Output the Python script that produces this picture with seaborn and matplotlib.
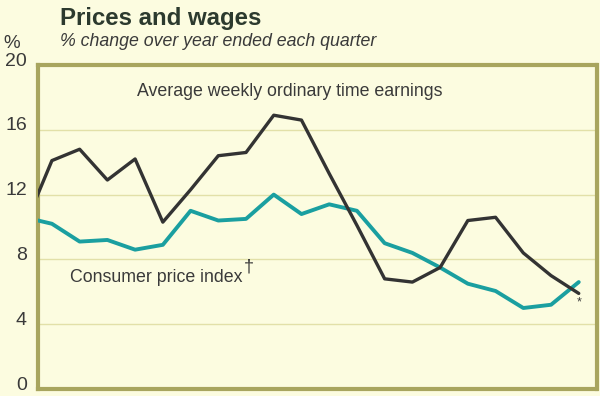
import matplotlib
matplotlib.use("Agg")
import matplotlib.pyplot as plt
import seaborn as sns
import pandas as pd

# Data (quarterly, % change over year); first point lies just left of the visible axis
quarter = list(range(21))
awote = [10.0, 14.1, 14.8, 12.9, 14.2, 10.3, 12.3, 14.4, 14.6, 16.9, 16.6,
         13.3, 10.1, 6.8, 6.6, 7.5, 10.4, 10.6, 8.4, 7.0, 5.9]
cpi = [10.6, 10.2, 9.1, 9.2, 8.6, 8.9, 11.0, 10.4, 10.5, 12.0, 10.8,
       11.4, 11.0, 9.0, 8.4, 7.5, 6.5, 6.05, 5.0, 5.2, 6.6]
yticks = [0, 4, 8, 12, 16, 20]

title = "Prices and wages"
subtitle = "% change over year ended each quarter"
awote_label = "Average weekly ordinary time earnings"
cpi_label = "Consumer price index"

bg = "#FCFCE0"
frame_col = "#A8A55E"
grid_col = "#E2E0A8"
dark = "#333333"
teal = "#1A9FA0"
text_col = "#3a3a3a"

sns.set_theme(style="white")
plt.rcParams["font.family"] = ["Liberation Sans", "DejaVu Sans"]

df = pd.DataFrame({"q": quarter, "awote": awote, "cpi": cpi})

fig = plt.figure(figsize=(6.0, 3.96), dpi=100)
fig.patch.set_facecolor(bg)
W, H = 600, 396
left, right, top, bottom = 37.5, 596.5, 65.0, 389.0
ax = fig.add_axes([left / W, 1 - bottom / H, (right - left) / W, (bottom - top) / H])
ax.set_facecolor(bg)

sns.lineplot(data=df, x="q", y="cpi", ax=ax, color=teal, linewidth=2.8, zorder=3)
sns.lineplot(data=df, x="q", y="awote", ax=ax, color=dark, linewidth=2.4, zorder=4)

ax.set_xlim(0.48, 20.64)
ax.set_ylim(0, 20)
ax.set_xticks([])
ax.set_yticks(yticks)
ax.set_yticklabels([])
ax.set_xlabel("")
ax.set_ylabel("")
ax.tick_params(left=False, bottom=False)
for y in yticks[1:-1]:
    ax.axhline(y, color=grid_col, linewidth=1.0, zorder=1)
for s in ax.spines.values():
    s.set_visible(True)
    s.set_color(frame_col)
    s.set_linewidth(3.0)

# tick labels as figure text (right aligned near the axis)
for v in yticks:
    ypix = top + (bottom - top) * (20 - v) / 20 - 4
    fig.text(27 / W, 1 - ypix / H, str(v), ha="right", va="center",
             fontsize=14, color=text_col)
fig.text(3 / W, 1 - 44 / H, "%", ha="left", va="center", fontsize=13.5, color=text_col)

fig.text(60 / W, 1 - 18 / H, title, ha="left", va="center", fontsize=17.3,
         fontweight="bold", color="#2c3a2e")
fig.text(60 / W, 1 - 42 / H, subtitle, ha="left", va="center", fontsize=12.8,
         style="italic", color=text_col)

fig.text(137 / W, 1 - 91 / H, awote_label, ha="left", va="center", fontsize=12.8,
         color=text_col)
fig.text(70 / W, 1 - 278 / H, cpi_label, ha="left", va="center", fontsize=12.8,
         color=text_col)
fig.text(244 / W, 1 - 267 / H, "\u2020", ha="left", va="center", fontsize=13,
         color=text_col)
fig.text(579 / W, 1 - 302 / H, "*", ha="center", va="center", fontsize=9,
         color=text_col)

fig.savefig("out.png", dpi=100, facecolor=bg)
